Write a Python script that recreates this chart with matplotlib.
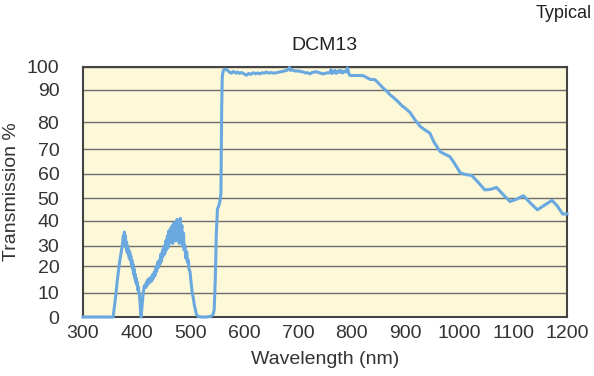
import numpy as np
import matplotlib.pyplot as plt

# spectrum
wavelength = [300, 356, 360, 364, 368, 371, 373, 375, 376, 377, 378, 379, 380, 381, 382, 383,
              384, 385, 386, 387, 388, 389, 390, 391, 392, 393, 394, 395, 396, 397, 398, 399,
              400, 401, 402, 403, 404, 405, 406, 407, 408, 410, 412, 414, 416, 417, 418, 420,
              421, 422, 424, 425, 427, 428, 430, 431, 433, 434, 436, 437, 439, 440, 442, 443,
              445, 446, 448, 449, 451, 452, 454, 455, 457, 458, 460, 461, 463, 464, 466, 467,
              469, 470, 472, 473, 475, 476, 478, 479, 481, 482, 484, 485, 487, 488, 490, 491,
              493, 494, 496, 497, 499, 501, 503, 505, 507, 509, 511, 514, 520, 530, 538, 542,
              544, 546, 548, 550, 553, 555, 556.5, 558, 559, 561, 564, 567, 570, 573, 576, 579,
              582, 585, 588, 591, 595, 600, 604, 608, 612, 617, 621, 625, 629, 633, 637, 641,
              645, 650, 655, 660, 665, 670, 675, 680, 684, 686, 690, 695, 700, 705, 710, 714,
              718, 722, 726, 730, 734, 738, 742, 746, 750, 755, 759, 761, 763, 765, 767, 769,
              771, 773, 775, 777, 779, 781, 783, 786, 789, 792, 794, 796, 805, 815, 821, 827,
              834, 843, 850, 858, 865, 871, 877, 885, 893, 900, 908, 917, 927, 935, 945, 953,
              964, 972, 982, 990, 1002, 1012, 1023, 1035, 1047, 1058, 1069, 1082, 1094, 1106,
              1119, 1132, 1145, 1158, 1172, 1182, 1192, 1200]
transmission = [0, 0, 7, 15, 22, 27, 30, 34, 32, 35.5, 31, 34, 29, 31.5, 27, 30,
                26, 28, 24, 27, 23, 25, 21, 23, 19, 21, 17, 19, 15.5, 17, 14, 15.5,
                13, 14, 11, 12, 10, 9.5, 6, 3, 0, 5, 10, 12.5, 13, 12, 14, 13,
                15, 13.5, 15.5, 14, 16, 14.5, 17, 15.5, 18, 16.5, 20, 18, 22, 19.5, 23, 21,
                26, 22.5, 28, 25, 30, 26, 32, 28, 34, 29, 36, 31, 37, 32, 38, 31,
                39, 33, 37, 32, 40.5, 34, 39, 31, 41, 35, 38, 30, 35, 28, 30, 24,
                27, 22, 23, 19, 18, 14, 10, 8, 5, 3, 1, 0.3, 0, 0, 0.3, 1,
                3, 15, 35, 45, 47, 49, 52, 85, 96, 98.5, 99, 98.8, 98.3, 97.6, 97.3, 98,
                97.8, 97.3, 97.8, 97.2, 97.6, 96.9, 96.4, 97.2, 96.8, 97.5, 97, 97.4, 97, 97.5, 97.3, 97.8,
                97.3, 97.6, 97.3, 97.5, 97.8, 98, 98.3, 98.6, 99.8, 98.5, 98.7, 98.2, 98.3, 98, 97.8, 97.4,
                97.5, 97, 97.6, 97.8, 97.9, 97.6, 97.3, 97, 97.2, 97.5, 97.4, 98.8, 97.2, 98.2, 97.6, 98.5,
                97.2, 98, 97.8, 98.6, 97.6, 98.3, 97.4, 98.2, 97.8, 99.6, 97.5, 96.3, 96.3, 96.3, 96.2, 95.5,
                94.6, 94.5, 92.8, 90.9, 89.6, 88.5, 87.7, 86.5, 85.1, 84.2, 83, 80.8, 78.4, 77.2, 75.9, 72.5,
                69, 68, 67, 64.5, 60.3, 59.7, 59.3, 56.5, 53.4, 53.6, 54.4, 51.3, 48.5, 49.5,
                51, 47.8, 44.8, 46.8, 49, 46.5, 42.9, 43]

xticks = [300, 400, 500, 600, 700, 800, 900, 1000, 1100, 1200]
yticks = [0, 10, 20, 30, 40, 50, 60, 70, 80, 90, 100]

# the original gridlines are not evenly spaced; where each tick sits (0..1 of the axis)
ytick_pos = [0, 0.0973, 0.2030, 0.2844, 0.3857, 0.4754, 0.5727, 0.6716, 0.7797, 0.9079, 1.0]


def fwd(v):
    return np.interp(v, yticks, ytick_pos)


def inv(f):
    return np.interp(f, ytick_pos, yticks)


fig = plt.figure(figsize=(5.94, 3.76), dpi=100)
ax = fig.add_axes([0.1397, 0.1569, 0.8148, 0.665])
ax.set_facecolor('#fdf8d8')

ax.set_yscale('function', functions=(fwd, inv))
ax.plot(wavelength, transmission, color='#6aa9e0', lw=2.2, zorder=3, clip_on=False)

ax.set_xlim(300, 1200)
ax.set_ylim(0, 100)
ax.set_xticks(xticks)
ax.set_yticks(yticks)
ax.set_yticklabels([str(t) for t in yticks])
ax.minorticks_off()
ax.yaxis.grid(True, color='#6e6e6e', lw=1)
ax.set_axisbelow(True)
ax.tick_params(axis='both', length=0, labelsize=14, colors='#333333')
ax.tick_params(axis='y', pad=17)
ax.tick_params(axis='x', pad=6)
for s in ax.spines.values():
    s.set_color('#444444')
    s.set_linewidth(1.5)

font = ['Liberation Sans', 'DejaVu Sans']
for lab in ax.get_xticklabels() + ax.get_yticklabels():
    lab.set_family(font)

ax.set_xlabel('Wavelength (nm)', fontsize=14, family=font, color='#333333', labelpad=6)
ax.set_ylabel('Transmission %', fontsize=14, family=font, color='#333333')
ax.yaxis.set_label_coords(-0.13, 0.5)

fig.text(0.547, 1 - 46 / 376, 'DCM13', ha='center', va='center', fontsize=14,
         family=font, color='#222222')
fig.text(592 / 594, 1 - 14 / 376, 'Typical', ha='right', va='center', fontsize=13,
         family=font, color='#222222')

fig.savefig('out.png', dpi=100)
